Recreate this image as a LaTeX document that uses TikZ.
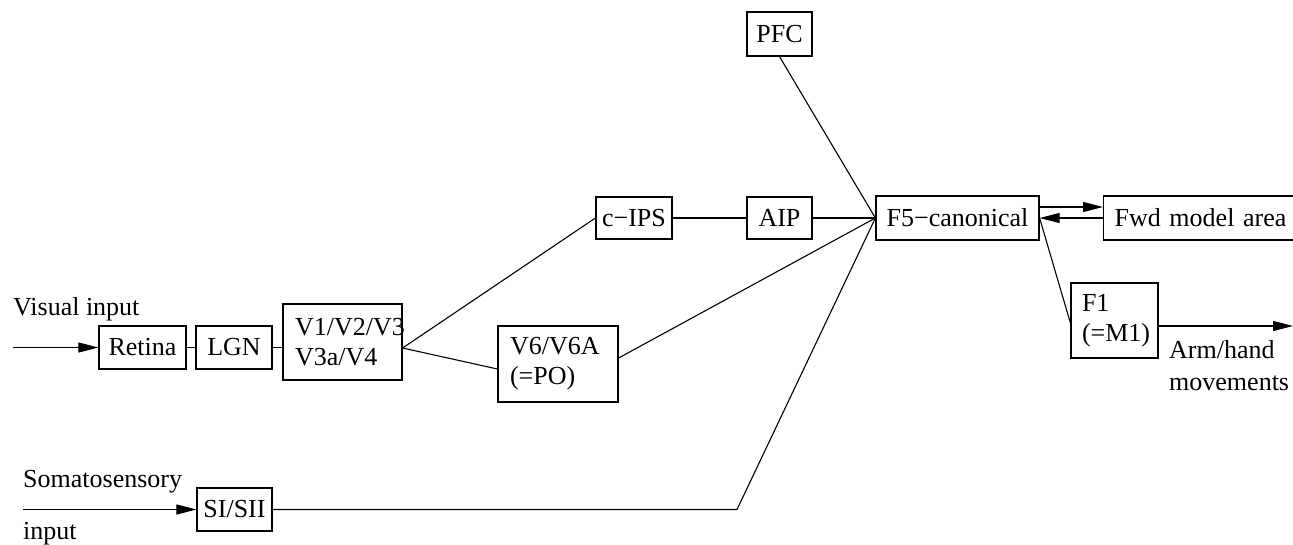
\documentclass[tikz,border=0pt]{standalone}
\usepackage{fontspec}
\setmainfont{Liberation Serif}
\usetikzlibrary{arrows.meta}
\begin{document}
\begin{tikzpicture}[x=1pt,y=-1pt,
  every node/.style={font=\fontsize{26}{30}\selectfont},
  regionbox/.style={draw, line width=1.2pt, inner sep=0pt, minimum height=43pt, minimum width=#1},
  regionbox/.default=70pt,
  tallarea/.style={draw, line width=1.2pt, inner ysep=0pt, inner xsep=12pt, align=left, text width=#1, minimum height=76pt},
  link/.style={line width=1.1pt},
  feed/.style={line width=1.1pt, -{Triangle[length=20pt,width=10pt]}},
  caption/.style={inner sep=0pt, anchor=base west}
]
\useasboundingbox (0,0) rectangle (1293,544);
\clip (0,0) rectangle (1293,544);

% areas
\node[regionbox=65pt, minimum height=44pt] (PFC) at (779.5,34) {PFC};
\node[regionbox=76pt, minimum height=42pt] (cips) at (634,218) {c−IPS};
\node[regionbox=65pt, minimum height=42pt] (AIP) at (779.5,218) {AIP};
\node[regionbox=163pt, minimum height=44pt] (F5) at (957.5,218) {F5−canonical};
\node[draw, line width=1.2pt, minimum height=44pt, inner ysep=0pt, inner xsep=11pt,
      text width=210pt, align=left, anchor=west] (fwd) at (1103,218) {Fwd model area};
\node[regionbox=87pt] (retina) at (142.5,347.5) {Retina};
\node[regionbox=76pt] (LGN) at (234,347.5) {LGN};
\node[tallarea=95pt] (V1) at (342.5,342) {V1/V2/V3\\V3a/V4};
\node[tallarea=96pt] (V6) at (558,364) {V6/V6A\\(=PO)};
\node[tallarea=65pt, inner xsep=11pt, minimum height=75pt] (F1) at (1114.5,320.5) {F1\\(=M1)};
\node[regionbox=75pt] (SI) at (234.5,509.5) {SI/SII};

% free ends and bends
\coordinate (visin) at (13,347.5);
\coordinate (somin) at (23,509.5);
\coordinate (bend) at (737,509.5);
\coordinate (armout) at (1293,326);
\coordinate (V1out) at ([yshift=-6pt]V1.east);

% visual stream
\draw[feed] (visin) -- (retina.west);
\draw[link] (retina.east) -- (LGN.west);
\draw[link] (LGN.east) -- (LGN.east -| V1.west);
\draw[link] (V1out) -- (cips.west);
\draw[link] (V1out) -- ([yshift=-5pt]V6.west);
\draw[link] (cips.east) -- (AIP.west);
\draw[link] (AIP.east) -- (F5.west);
\draw[link] ([yshift=6pt]V6.east) -- (F5.west);
\draw[link] (PFC.south) -- (F5.west);

% somatosensory stream
\draw[feed] (somin) -- (SI.west);
\draw[link] (SI.east) -- (bend) -- (F5.west);

% motor side
\draw[feed] ([yshift=11pt]F5.east) -- ([yshift=11pt]fwd.west);
\draw[feed] (fwd.west) -- (F5.east);
\draw[link] (F5.east) -- ([yshift=-2.5pt]F1.west);
\draw[feed] ([yshift=-5.5pt]F1.east) -- (armout);

% labels
\node[caption] (vislabel) at (13,315) {Visual input};
\node[caption] (somlabel) at (23,487) {Somatosensory};
\node[caption] (somlabelb) at (23,539) {input};
\node[caption] (armlabel) at (1169,358) {Arm/hand};
\node[caption] (armlabelb) at (1169,390) {movements};
\end{tikzpicture}
\end{document}
